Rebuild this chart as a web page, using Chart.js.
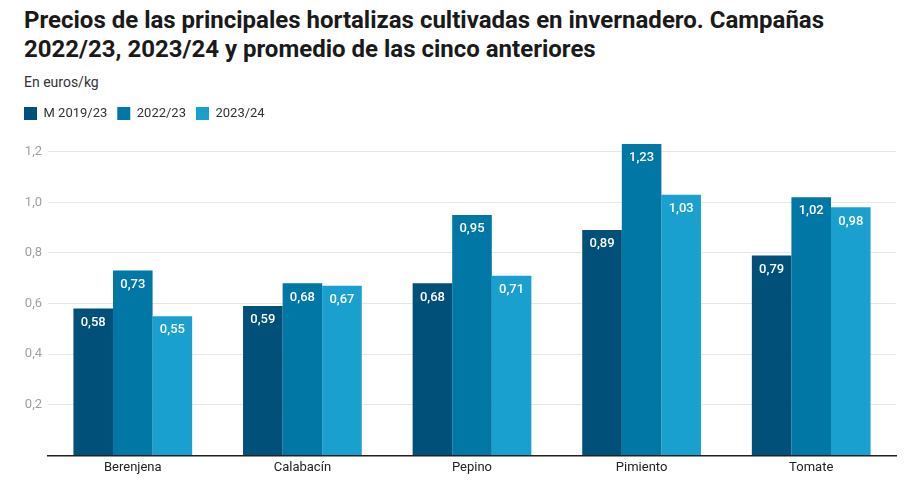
<!DOCTYPE html>
<html>
<head>
<meta charset="utf-8">
<script src="https://cdn.jsdelivr.net/npm/chart.js@4"></script>
<style>
  body { margin: 0; background: #fff; font-family: Roboto, sans-serif; }
  #title { position: absolute; left: 24px; top: 6px; width: 890px; font-size: 24px; font-weight: bold; line-height: 29px; color: #1a1a1a; white-space: nowrap; }
  #subtitle { position: absolute; left: 24px; top: 74px; font-size: 14px; color: #333; }
  #wrap { position: absolute; left: 0; top: 97px; width: 920px; height: 391px; }
</style>
</head>
<body>
<div id="title">Precios de las principales hortalizas cultivadas en invernadero. Campañas<br>2022/23, 2023/24 y promedio de las cinco anteriores</div>
<div id="subtitle">En euros/kg</div>
<div id="wrap"><canvas id="preciosChart"></canvas></div>
<script>
// datos
const categories = ["Berenjena", "Calabacín", "Pepino", "Pimiento", "Tomate"];
const seriesNames = ["M 2019/23", "2022/23", "2023/24"];
const media1923 = [0.58, 0.59, 0.68, 0.89, 0.79];
const camp2223 = [0.73, 0.68, 0.95, 1.23, 1.02];
const camp2324 = [0.55, 0.67, 0.71, 1.03, 0.98];
const yTicks = [0, 0.2, 0.4, 0.6, 0.8, 1.0, 1.2];

const colors = ['#00507a', '#0077a4', '#1aa0cf'];

// etiquetas de valor dentro de las barras
const valueLabels = {
    id: 'valueLabels',
    afterDatasetsDraw(chart) {
        const c = chart.ctx;
        c.save();
        c.fillStyle = '#ffffff';
        c.font = '500 13px Roboto';
        c.textAlign = 'center';
        c.textBaseline = 'middle';
        chart.data.datasets.forEach((ds, i) => {
            chart.getDatasetMeta(i).data.forEach((bar, j) => {
                c.fillText(ds.data[j].toFixed(2).replace('.', ','), bar.x, bar.y + 14);
            });
        });
        c.restore();
    }
};

// un poco mas de aire bajo la leyenda
const legendGap = {
    id: 'legendGap',
    beforeInit(chart) {
        const fit = chart.legend.fit;
        chart.legend.fit = function () {
            fit.bind(chart.legend)();
            this.height += 9;
        };
    }
};

const ctx = document.getElementById('preciosChart').getContext('2d');

const chart = new Chart(ctx, {
    type: 'bar',
    data: {
        labels: categories,
        datasets: [media1923, camp2223, camp2324].map((d, i) => ({
            label: seriesNames[i],
            data: d,
            backgroundColor: colors[i],
            borderWidth: 0,
            barPercentage: 1,
            categoryPercentage: 0.7
        }))
    },
    options: {
        responsive: true,
        maintainAspectRatio: false,
        animation: false,
        layout: { padding: { left: 14, right: 24, top: 0, bottom: 7 } },
        scales: {
            y: {
                min: 0,
                max: 1.25,
                afterBuildTicks: (axis) => { axis.ticks = yTicks.map(v => ({ value: v })); },
                afterFit: (axis) => { axis.width = 34; },
                grid: { color: '#e6e6e6', drawTicks: false },
                border: { display: false },
                ticks: {
                    color: '#a0a0a0',
                    padding: 6,
                    font: { size: 13, family: 'Roboto' },
                    callback: (v) => v === 0 ? '' : v.toFixed(1).replace('.', ',')
                }
            },
            x: {
                grid: { display: false, drawTicks: false },
                border: { display: true, color: '#222', width: 1.5 },
                ticks: {
                    color: '#222',
                    padding: 5,
                    font: { size: 13, family: 'Roboto' }
                }
            }
        },
        plugins: {
            legend: {
                position: 'top',
                align: 'start',
                labels: {
                    boxWidth: 13,
                    boxHeight: 13,
                    padding: 10,
                    color: '#333',
                    font: { size: 13, family: 'Roboto' }
                }
            },
            tooltip: { enabled: false }
        }
    },
    plugins: [valueLabels, legendGap]
});
</script>
</body>
</html>
